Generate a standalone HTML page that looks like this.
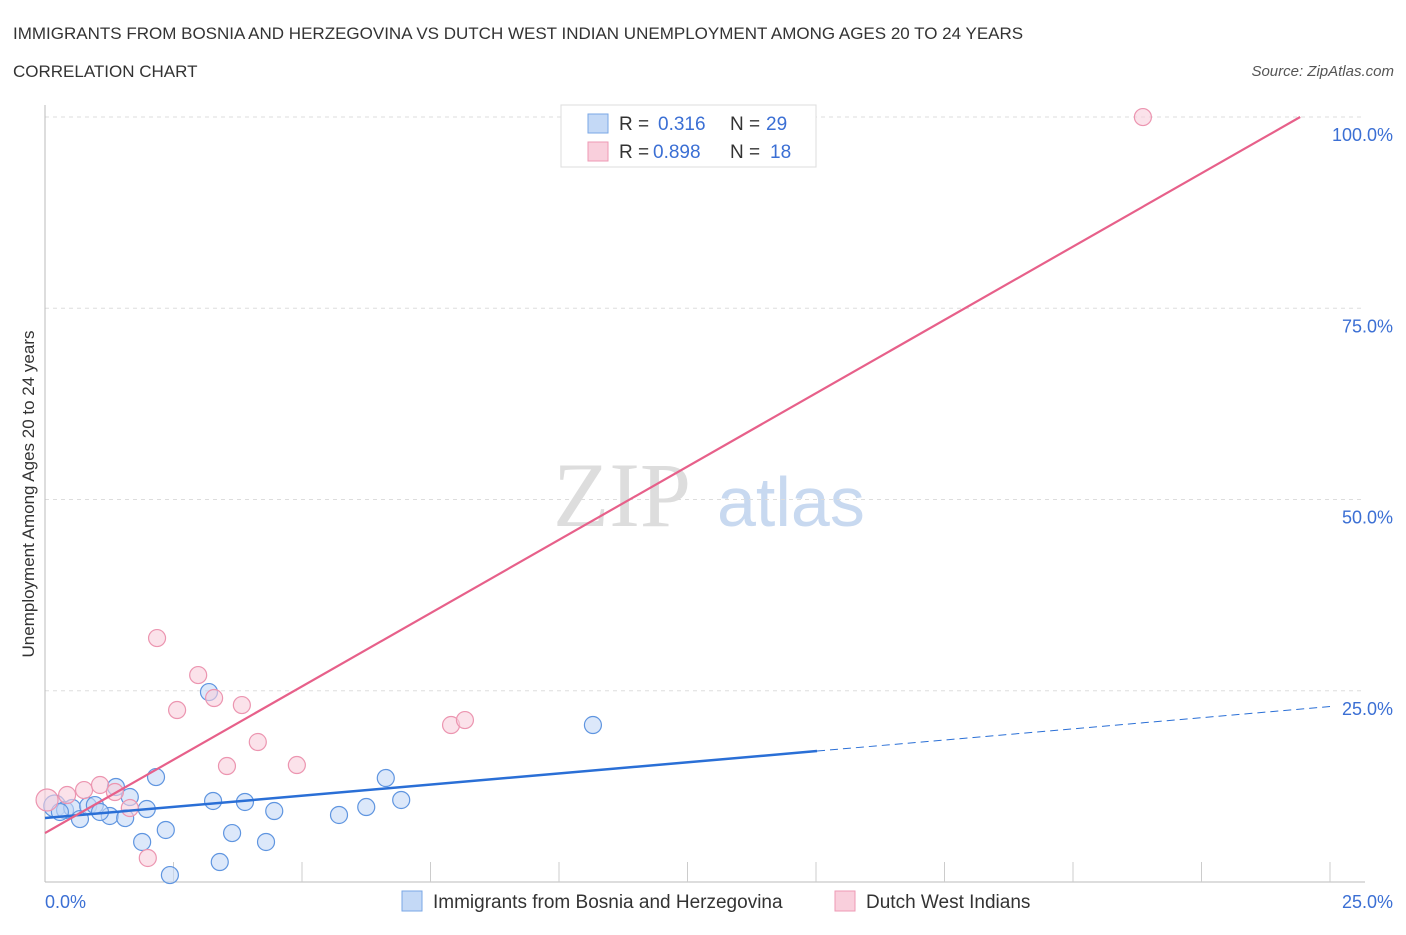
<!DOCTYPE html>
<html><head><meta charset="utf-8"><style>
body{margin:0;background:#fff;font-family:"Liberation Sans",sans-serif;}
</style></head><body>
<svg width="1406" height="930" xmlns="http://www.w3.org/2000/svg" font-family="Liberation Sans, sans-serif">
<text x="13" y="39" font-size="17" fill="#333">IMMIGRANTS FROM BOSNIA AND HERZEGOVINA VS DUTCH WEST INDIAN UNEMPLOYMENT AMONG AGES 20 TO 24 YEARS</text>
<text x="13" y="77" font-size="17" fill="#333">CORRELATION CHART</text>
<text x="1394" y="76" font-size="15" fill="#555" font-style="italic" text-anchor="end">Source: ZipAtlas.com</text>
<text x="553" y="526" font-size="92" fill="#ddd" font-family="Liberation Serif, serif">ZIP</text>
<text x="717" y="526" font-size="70" fill="#c8d9f0">atlas</text>
<text transform="translate(34,494) rotate(-90)" font-size="17" fill="#333" text-anchor="middle">Unemployment Among Ages 20 to 24 years</text>
<g id="grid"></g>
<g id="marks"></g>
<g>
<rect x="561" y="105" width="255" height="62" fill="#fff" stroke="#ddd"/>
<rect x="588" y="114" width="20" height="19" fill="#c4d9f6" stroke="#7aa7e6"/>
<text x="619" y="130" font-size="19" fill="#333">R = </text><text x="658" y="130" font-size="19" fill="#3b6fd4">0.316</text>
<text x="730" y="130" font-size="19" fill="#333">N = </text><text x="766" y="130" font-size="19" fill="#3b6fd4">29</text>
<rect x="588" y="142" width="20" height="19" fill="#f9cfdc" stroke="#ee9ab4"/>
<text x="619" y="158" font-size="19" fill="#333">R = </text><text x="653" y="158" font-size="19" fill="#3b6fd4">0.898</text>
<text x="730" y="158" font-size="19" fill="#333">N = </text><text x="770" y="158" font-size="19" fill="#3b6fd4">18</text>
</g>
<g>
<rect x="402" y="891" width="20" height="20" fill="#c4d9f6" stroke="#7aa7e6"/>
<text x="433" y="908" font-size="19" fill="#333">Immigrants from Bosnia and Herzegovina</text>
<rect x="835" y="891" width="20" height="20" fill="#f9cfdc" stroke="#ee9ab4"/>
<text x="866" y="908" font-size="19" fill="#333">Dutch West Indians</text>
</g>
</svg>
<script>
const xTicks=[0,25];
const yTicks=[25,50,75,100];
const blueX=[0.19,0.39,0.53,0.68,0.84,0.97,1.26,1.38,1.56,1.65,1.98,1.89,2.16,2.35,2.43,3.19,3.27,3.64,3.40,3.89,4.30,4.46,5.72,6.25,6.63,6.93,10.66,0.29,1.07];
const blueY=[9.93,9.41,9.67,8.23,9.93,10.06,8.63,12.42,8.36,11.11,9.54,5.23,13.72,6.80,0.91,24.83,10.59,6.40,2.61,10.46,5.23,9.28,8.76,9.80,13.59,10.72,20.52,9.15,9.15];
const pinkX=[0.04,0.43,0.76,1.07,1.36,1.65,2.00,2.18,2.57,2.98,3.29,3.83,3.54,4.14,4.90,7.90,8.17,21.36];
const pinkY=[10.72,11.37,12.02,12.68,11.76,9.67,3.14,31.89,22.48,27.05,24.05,23.13,15.16,18.30,15.29,20.52,21.17,99.99];
const blueFit=[8.36,0.583];
const pinkFit=[6.4,3.833];
const NS="http://www.w3.org/2000/svg";
const X=v=>45+v*(1285/25), Y=v=>882-v*7.65;
function mk(t,a,p){const e=document.createElementNS(NS,t);for(const k in a)e.setAttribute(k,a[k]);p.appendChild(e);return e;}
const g=document.getElementById('grid'), m=document.getElementById('marks');
yTicks.forEach(t=>{
 const l=mk('line',{x1:45,x2:1365,y1:Y(t),y2:Y(t),stroke:'#ddd','stroke-dasharray':'4 4'},g);
 
 
 const tx=mk('text',{x:1393,y:Y(t)+24,'font-size':18,fill:'#3b6fd4','text-anchor':'end'},g);
 tx.textContent=t.toFixed(1)+'%';
 
 
});
mk('line',{x1:45,x2:45,y1:105,y2:882,stroke:'#bbb'},g);
mk('line',{x1:45,x2:1365,y1:882,y2:882,stroke:'#bbb'},g);
for(let i=1;i<=10;i++){const xx=X(i*2.5);mk('line',{x1:xx,x2:xx,y1:862,y2:882,stroke:'#ccc'},g);}
xTicks.forEach((t,i)=>{
 const tx=mk('text',{x:i==0?45:1393,y:908,'font-size':18,fill:'#3b6fd4','text-anchor':i==0?'start':'end'},g);
 tx.textContent=t.toFixed(1)+'%';
 
 
});
function pts(xs,ys,fill,stroke,name){xs.forEach((x,i)=>{
 const c=mk('circle',{cx:X(x),cy:Y(ys[i]),r:i==0?11:8.5,fill:fill,'fill-opacity':0.6,stroke:stroke,'stroke-width':1.2},m);
 
 
});}
pts(blueX,blueY,'#c4d9f6','#5f95e0','bosnia-point');
pts(pinkX,pinkY,'#f9cfdc','#ec95b0','dutch-west-indian-point');
let l=mk('line',{x1:X(0),y1:Y(blueFit[0]),x2:X(15.02),y2:Y(blueFit[0]+blueFit[1]*15.02),stroke:'#2a6fd6','stroke-width':2.5},m);


l=mk('line',{x1:X(15.02),y1:Y(blueFit[0]+blueFit[1]*15.02),x2:X(25),y2:Y(blueFit[0]+blueFit[1]*25),stroke:'#2a6fd6','stroke-width':1,'stroke-dasharray':'8 5'},m);


const xe=(100-pinkFit[0])/pinkFit[1];
l=mk('line',{x1:X(0),y1:Y(pinkFit[0]),x2:X(xe),y2:Y(100),stroke:'#e7608a','stroke-width':2.2},m);


</script>
</body></html>
